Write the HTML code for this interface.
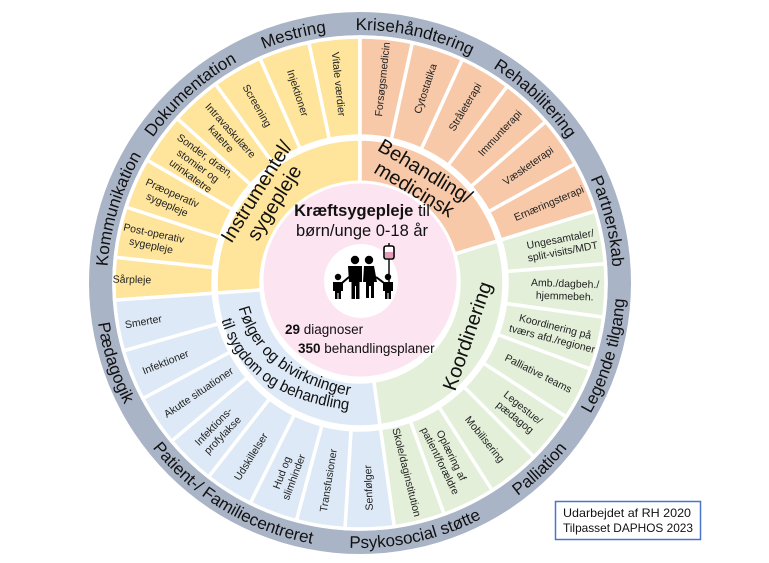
<!DOCTYPE html>
<html><head><meta charset="utf-8">
<style>
html,body{margin:0;padding:0;background:#fff;}
svg{display:block;font-family:"Liberation Sans","DejaVu Sans",sans-serif;}
</style></head>
<body>
<svg id="s" width="769" height="563" viewBox="0 0 769 563" xmlns="http://www.w3.org/2000/svg">
<rect width="769" height="563" fill="#fff"/>
<g id="g"></g>
<rect x="555.5" y="501.5" width="145" height="38" fill="#fff" stroke="#4a74c9" stroke-width="1.5"/>
<text x="563" y="517" font-size="12" fill="#111" textLength="128" lengthAdjust="spacingAndGlyphs">Udarbejdet af RH 2020</text>
<text x="563" y="532" font-size="12" fill="#111" textLength="130" lengthAdjust="spacingAndGlyphs">Tilpasset DAPHOS 2023</text>
</svg>
<script>
var CX=360,CY=283;
var g=document.getElementById('g');
var NS="http://www.w3.org/2000/svg";
function P(r,a){a=a*Math.PI/180;return [CX+r*Math.sin(a),CY-r*Math.cos(a)];}
function el(t,at,txt){var e=document.createElementNS(NS,t);for(var k in at)e.setAttribute(k,at[k]);if(txt!==undefined)e.textContent=txt;g.appendChild(e);return e;}
function wedge(r1,r2,a1,a2,fill){
 var p1=P(r2,a1),p2=P(r2,a2),p3=P(r1,a2),p4=P(r1,a1);var l=(a2-a1)>180?1:0;
 var d="M"+p1+" A"+r2+","+r2+" 0 "+l+" 1 "+p2+" L"+p3+" A"+r1+","+r1+" 0 "+l+" 0 "+p4+"Z";
 el('path',{d:d,fill:fill,stroke:'#fff','stroke-width':3.5,'stroke-linejoin':'round'});
}
el('circle',{cx:CX,cy:CY,r:271,fill:'#aab4c7'});
el('circle',{cx:CX,cy:CY,r:247,fill:'#fff'});
var Y='#fee59b',O='#f8c9a9',G='#e3efd9',B='#dde9f6';
var quads=[[266,360,Y],[0,73,O],[73,172,G],[172,266,B]];
quads.forEach(function(q){wedge(144,246,q[0],q[1],q[2]);wedge(99,144,q[0],q[1],q[2]);});
var segs=[
 [266,276,Y,['Sårpleje'],228,-1],
 [276,288,Y,['Post-operativ','sygepleje'],212,-1],
 [288,300,Y,['Præoperativ','sygepleje'],208,-1],
 [300,312,Y,['Sonder, dræn,','stomier og','urinkatetre'],200,-1],
 [312,324,Y,['Intravaskulære','katetre'],200,-1],
 [324,336,Y,['Screening'],205,-1],
 [336,348,Y,['Injektioner'],200,-1],
 [348,360,Y,['Vitale værdier'],200,-1],
 [0,12.3,O,['Forsøgsmedicin'],205,1],
 [12.3,24.6,O,['Cytostatika'],205,1],
 [24.6,36.8,O,['Stråleterapi'],205,1],
 [36.8,49,O,['Immunterapi'],205,1],
 [49,61,O,['Væsketerapi'],205,1],
 [61,73,O,['Ernæringsterapi'],205,1],
 [73,85.5,G,['Ungesamtaler/','split-visits/MDT'],205,1],
 [85.5,98,G,['Amb./dagbeh./','hjemmebeh.'],205,1],
 [98,110.5,G,['Koordinering på','tværs afd./regioner'],200,1],
 [110.5,123,G,['Palliative teams'],200,1],
 [123,135,G,['Legestue/','pædagog'],205,1],
 [135,147.5,G,['Mobilisering'],200,1],
 [147.5,160,G,['Oplæring af','patient/forældre'],195,1],
 [160,172,G,['Skole/daginstitution'],195,1],
 [172,183.5,B,['Senfølger'],205,-1],
 [183.5,195,B,['Transfusioner'],200,-1],
 [195,206.5,B,['Hud og','slimhinder'],205,-1],
 [206.5,218,B,['Udskillelser'],205,-1],
 [218,230,B,['Infektions-','profylakse'],205,-1],
 [230,242,B,['Akutte situationer'],195,-1],
 [242,254,B,['Infektioner'],210,-1],
 [254,266,B,['Smerter'],220,-1]
];
segs.forEach(function(s){wedge(147,246,s[0],s[1],s[2]);});
segs.forEach(function(s){
 var m=(s[0]+s[1])/2,p=P(s[4],m);
 var rot=s[5]<0?m-270:m-90;
 var t=el('text',{x:0,y:0,'font-size':10.5,fill:'#222','text-anchor':'middle',
   transform:'translate('+p[0].toFixed(1)+','+p[1].toFixed(1)+') rotate('+rot.toFixed(1)+')'});
 var n=s[3].length;
 s[3].forEach(function(line,i){
   var ts=document.createElementNS(NS,'tspan');ts.setAttribute('x',0);
   ts.setAttribute('y',((i-(n-1)/2)*12.5+4).toFixed(1));ts.textContent=line;t.appendChild(ts);
 });
});
el('circle',{cx:360,cy:280,r:98,fill:'#fce4f0',stroke:'#fff','stroke-width':3});
el('circle',{cx:361,cy:281,r:37,fill:'#fff'});
var ic='#000';
el('circle',{cx:355,cy:260,r:4.2,fill:ic});
el('path',{d:'M348,266 h14 v16 h-2.5 v17 h-3.5 v-13 h-1 v13 h-3.5 v-17 h-2.5z',fill:ic});
el('circle',{cx:369,cy:260,r:4.2,fill:ic});
el('path',{d:'M364,266 h10 l3,16 h-3 v16 h-3 v-12 h-2 v12 h-3 v-16 h-3z',fill:ic});
el('circle',{cx:338,cy:277,r:3.2,fill:ic});
el('path',{d:'M333,282 h10 v9 h-2 v8 h-2.5 v-6 h-1 v6 h-2.5 v-8 h-2z',fill:ic});
el('path',{d:'M342,283 l7,-6',stroke:ic,'stroke-width':2,fill:'none'});
el('circle',{cx:388,cy:277,r:3.2,fill:ic});
el('path',{d:'M383,282 h10 v9 h-2 v8 h-2.5 v-6 h-1 v6 h-2.5 v-8 h-2z',fill:ic});
el('path',{d:'M384,283 l-8,-6',stroke:ic,'stroke-width':2,fill:'none'});
el('rect',{x:384,y:246,width:10,height:13,rx:2,fill:'#fff',stroke:ic,'stroke-width':1.6});
el('rect',{x:385,y:252,width:8,height:6,fill:'#e99ab8'});
el('path',{d:'M389,243 v3 M389,259 v23',stroke:ic,'stroke-width':1.4,fill:'none'});
var t1=el('text',{x:362,y:216,'font-size':16.5,'text-anchor':'middle',fill:'#111'});
t1.innerHTML='<tspan font-weight="bold">Kræftsygepleje</tspan> til';
el('text',{x:362,y:236,'font-size':16.5,'text-anchor':'middle',fill:'#111'},'børn/unge 0-18 år');
var t2=el('text',{x:285,y:334,'font-size':13.5,fill:'#111'});t2.innerHTML='<tspan font-weight="bold">29</tspan> diagnoser';
var t3=el('text',{x:298,y:353,'font-size':13.5,fill:'#111'});t3.innerHTML='<tspan font-weight="bold">350</tspan> behandlingsplaner';
function ql(x,y,rot,lines){
 var t=el('text',{'font-size':20,fill:'#111','text-anchor':'middle',transform:'translate('+x+','+y+') rotate('+rot+')'});
 lines.forEach(function(l,i){var ts=document.createElementNS(NS,'tspan');ts.setAttribute('x',0);ts.setAttribute('y',(i-(lines.length-1)/2)*21+7);ts.textContent=l;t.appendChild(ts);});
}
ql(265,197,-58,['Instrumentel/','sygepleje']);
ql(420,180,31,['Behandling/','medicinsk']);
ql(467,336,-71,['Koordinering']);
function tp(id,txt,size,off,len){
 var at={'font-size':size,fill:'#111','text-anchor':off?'start':'middle'};
 var t=el('text',at);
 var p=document.createElementNS(NS,'textPath');p.setAttribute('href','#'+id);p.setAttributeNS('http://www.w3.org/1999/xlink','xlink:href','#'+id);
 p.setAttribute('startOffset',off||'50%');
 if(len){p.setAttribute('textLength',len);p.setAttribute('lengthAdjust','spacingAndGlyphs');}
 p.textContent=txt;t.appendChild(p);
}
el('path',{id:'bl1',d:'M238,306 Q256,378 352,396',fill:'none'});
el('path',{id:'bl2',d:'M221,318 Q242,399 358,411',fill:'none'});
tp('bl1','Følger og bivirkninger',16,'2',150);
tp('bl2','til sygdom og behandling',16,'2',166);
var outer=[['Kommunikation',287,1],['Dokumentation',318,1],['Mestring',345,1],['Krisehåndtering',12.5,1],
 ['Rehabilitering',43.5,1],['Partnerskab',76,1],['Legende tilgang',106.5,0],['Palliation',136,0],
 ['Psykosocial støtte',167.5,0],['Patient-/ Familiecentreret',211,0],['Pædagogik',252,0]];
outer.forEach(function(o,i){
 var id='o'+i,d;
 if(o[2]){var r=253,a=P(r,o[1]-80),b=P(r,o[1]+80);d='M'+a+' A'+r+','+r+' 0 0 1 '+b;}
 else{var r=265,a=P(r,o[1]+80),b=P(r,o[1]-80);d='M'+a+' A'+r+','+r+' 0 0 0 '+b;}
 el('path',{id:id,d:d,fill:'none'});
 tp(id,o[0],17);
});
</script>
</body></html>
